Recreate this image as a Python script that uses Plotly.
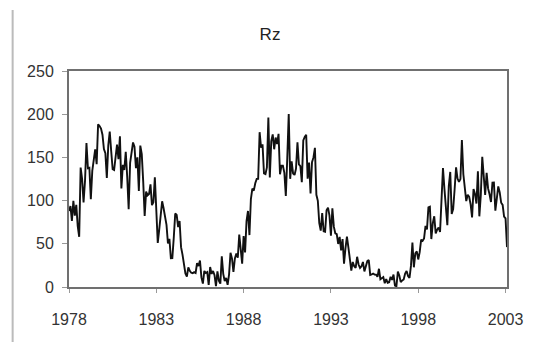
import plotly.graph_objects as go

# Monthly sunspot number Rz, Jan 1978 .. Feb 2003
rz_1978 = [88, 93.6, 76.5, 99.7, 82.7, 95.1, 70.4, 58.1, 138.2, 125.1, 97.9, 122.7]
rz_1979 = [166.6, 137.5, 138.0, 101.5, 134.4, 149.5, 159.4, 142.2, 188.4, 186.2, 183.3, 176.3]
rz_1980 = [159.6, 155.0, 126.2, 164.1, 179.9, 157.3, 136.3, 135.4, 155.0, 164.7, 147.9, 174.4]
rz_1981 = [114.0, 141.3, 135.5, 156.4, 127.5, 90.0, 143.8, 158.7, 167.3, 162.4, 137.5, 150.1]
rz_1982 = [111.2, 163.6, 153.8, 122.0, 82.2, 110.4, 106.1, 107.6, 118.8, 94.7, 98.1, 127.0]
rz_1983 = [84.3, 51.0, 66.5, 80.7, 99.2, 91.1, 82.2, 71.8, 50.3, 55.8, 33.3, 33.4]
rz_1984 = [57.0, 85.1, 83.5, 69.4, 76.4, 46.1, 37.4, 25.5, 15.7, 12.0, 22.8, 18.7]
rz_1985 = [16.5, 15.9, 17.2, 16.2, 27.5, 24.2, 30.7, 11.1, 3.9, 18.6, 16.2, 17.3]
rz_1986 = [2.5, 23.2, 15.1, 18.5, 13.7, 1.1, 18.1, 7.4, 3.8, 35.4, 15.2, 6.8]
rz_1987 = [10.4, 2.4, 14.7, 39.6, 33.0, 17.4, 33.0, 38.7, 33.9, 60.6, 39.9, 27.1]
rz_1988 = [59.0, 40.0, 76.2, 88.0, 60.1, 101.8, 113.8, 111.6, 120.1, 125.1, 125.1, 179.2]
rz_1989 = [161.3, 165.1, 131.4, 130.6, 138.5, 196.2, 126.9, 168.9, 176.7, 159.4, 173.0, 165.5]
rz_1990 = [177.3, 130.5, 140.3, 140.3, 132.2, 105.4, 149.4, 200.3, 125.2, 145.5, 131.4, 129.7]
rz_1991 = [136.9, 167.5, 141.9, 140.0, 121.3, 169.7, 173.7, 176.3, 125.3, 144.1, 108.2, 144.4]
rz_1992 = [150.0, 161.1, 106.7, 99.8, 73.8, 65.2, 85.7, 64.5, 63.9, 88.7, 91.8, 82.6]
rz_1993 = [59.3, 91.0, 69.8, 62.2, 61.3, 49.8, 57.9, 42.4, 55.4, 27.0, 45.0, 58.2]
rz_1994 = [46.0, 32.0, 19.0, 29.0, 24.0, 22.0, 35.0, 26.0, 22.0, 24.0, 29.0, 18.0]
rz_1995 = [24.2, 29.9, 31.1, 14.0, 14.5, 15.6, 14.5, 14.3, 11.8, 21.1, 9.0, 10.0]
rz_1996 = [11.5, 4.4, 9.2, 4.8, 5.5, 11.8, 8.2, 14.4, 1.6, 0.9, 17.9, 13.3]
rz_1997 = [5.7, 7.6, 8.7, 15.5, 18.5, 12.7, 10.4, 24.4, 51.3, 22.8, 39.0, 41.2]
rz_1998 = [31.9, 40.3, 54.8, 53.4, 56.3, 70.7, 66.6, 92.2, 92.9, 55.5, 74.0, 81.9]
rz_1999 = [62.0, 66.3, 68.8, 63.7, 106.4, 137.7, 113.5, 93.7, 71.5, 116.7, 133.2, 84.6]
rz_2000 = [90.1, 112.9, 138.5, 125.5, 121.6, 124.9, 170.1, 130.5, 109.7, 99.4, 106.8, 104.4]
rz_2001 = [95.6, 80.6, 113.5, 107.7, 96.6, 134.0, 81.8, 106.4, 150.7, 125.5, 106.5, 132.2]
rz_2002 = [114.1, 107.4, 98.4, 120.7, 120.8, 88.3, 99.6, 116.4, 109.6, 97.5, 95.0, 81.6]
rz_2003 = [79.5, 46.2]

start_year = 1978
x_tick_years = [1978, 1983, 1988, 1993, 1998, 2003]
y_ticks = [0, 50, 100, 150, 200, 250]
title_text = "Rz"

values = (rz_1978 + rz_1979 + rz_1980 + rz_1981 + rz_1982 + rz_1983 + rz_1984 +
          rz_1985 + rz_1986 + rz_1987 + rz_1988 + rz_1989 + rz_1990 + rz_1991 +
          rz_1992 + rz_1993 + rz_1994 + rz_1995 + rz_1996 + rz_1997 + rz_1998 +
          rz_1999 + rz_2000 + rz_2001 + rz_2002 + rz_2003)
xs = [start_year + i / 12 for i in range(len(values))]

fig = go.Figure()
fig.add_trace(go.Scatter(x=xs, y=values, mode="lines",
                         line=dict(color="#111111", width=1.9),
                         showlegend=False, hoverinfo="skip"))

font_family = "Liberation Sans, Arial, sans-serif"
fig.update_layout(
    width=535, height=342, autosize=False,
    margin=dict(l=69, r=23, t=71, b=55),
    paper_bgcolor="white", plot_bgcolor="white",
    title=dict(text=title_text, x=270 / 535, xref="container", xanchor="center",
               y=1 - 34 / 342, yref="container", yanchor="middle",
               font=dict(family=font_family, size=17, color="#222222")),
    font=dict(family=font_family, size=16, color="#333333"),
)
fig.update_xaxes(range=[start_year, xs[-1]], tickvals=x_tick_years,
                 ticktext=[str(v) for v in x_tick_years],
                 showgrid=False, zeroline=False, ticks="outside", ticklen=4,
                 tickcolor="#999999", showline=True, mirror=True,
                 linecolor="#707070", linewidth=2, ticklabelstandoff=13)
fig.update_yaxes(range=[0, 250], tickvals=y_ticks, showgrid=False, zeroline=False,
                 ticks="outside", ticklen=5, tickcolor="#999999",
                 showline=True, mirror=True, linecolor="#707070", linewidth=2,
                 ticklabelstandoff=5)
# decorative left border line of the original figure
fig.add_shape(type="line", xref="paper", yref="paper",
              x0=(12 - 69) / 443, x1=(12 - 69) / 443,
              y0=(287 - 10) / 216, y1=(287 - 342) / 216,
              line=dict(color="#bbbbbb", width=2))

fig.write_html("out.html", config={"displayModeBar": False, "staticPlot": True},
               post_script="document.body.style.margin='0';document.body.style.overflow='hidden';")
